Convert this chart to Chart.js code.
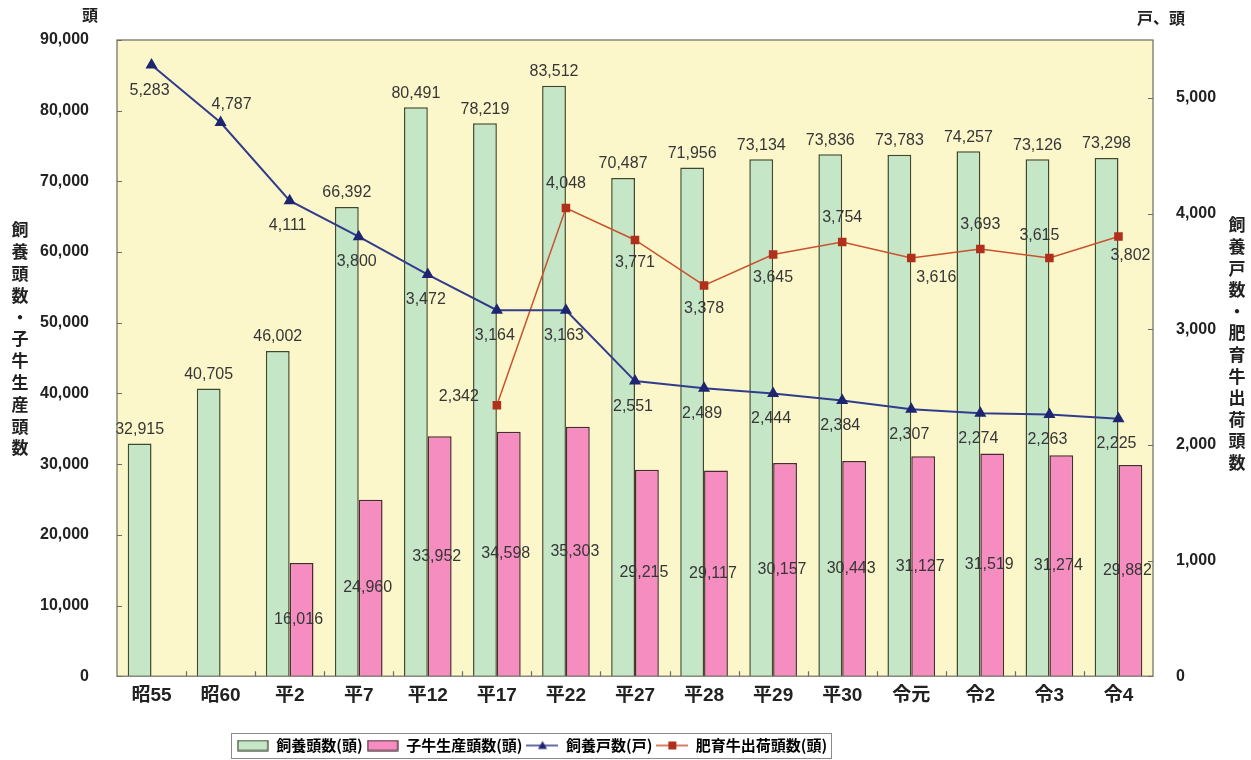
<!DOCTYPE html>
<html>
<head>
<meta charset="utf-8">
<script src="https://cdn.jsdelivr.net/npm/chart.js@4.4.1/dist/chart.umd.min.js"></script>
<style>
  html, body { margin: 0; background: #fff; }
  #wrap { width: 1251px; height: 760px; }
</style>
</head>
<body>
<div id="wrap"><canvas id="myChart"></canvas></div>
<script>
// 年次（x軸）
const labels = ['昭55', '昭60', '平2', '平7', '平12', '平17', '平22', '平27', '平28', '平29', '平30', '令元', '令2', '令3', '令4'];

// 棒グラフ（左軸）
const shiyoTosu = [32915, 40705, 46002, 66392, 80491, 78219, 83512, 70487, 71956, 73134, 73836, 73783, 74257, 73126, 73298];
const koushiSeisan = [null, null, 16016, 24960, 33952, 34598, 35303, 29215, 29117, 30157, 30443, 31127, 31519, 31274, 29882];

// 折れ線（右軸）
const shiyoKosu = [5283, 4787, 4111, 3800, 3472, 3164, 3163, 2551, 2489, 2444, 2384, 2307, 2274, 2263, 2225];
const shukkaTosu = [null, null, null, null, null, 2342, 4048, 3771, 3378, 3645, 3754, 3616, 3693, 3615, 3802];

// 軸目盛
const leftTicks = [0, 10000, 20000, 30000, 40000, 50000, 60000, 70000, 80000, 90000];
const rightTicks = [0, 1000, 2000, 3000, 4000, 5000];
const rightMax = 5500;

const FONT = '"Liberation Sans", Arial, "Noto Sans CJK JP", sans-serif';
const JP = '"Noto Sans CJK JP", "Liberation Sans", sans-serif';
const fmt = v => Number(v).toLocaleString('en-US');

// 凡例アイコン
function boxIcon(fill, stroke) {
  const c = document.createElement('canvas');
  c.width = 32; c.height = 12;
  const g = c.getContext('2d');
  g.fillStyle = fill;
  g.fillRect(1, 1, 30, 10);
  g.strokeStyle = stroke;
  g.lineWidth = 1.2;
  g.strokeRect(1, 1, 30, 10);
  return c;
}
function lineIcon(color, mark, shape) {
  const c = document.createElement('canvas');
  c.width = 32; c.height = 12;
  const g = c.getContext('2d');
  g.strokeStyle = color;
  g.lineWidth = 1.5;
  g.beginPath(); g.moveTo(0, 6); g.lineTo(32, 6); g.stroke();
  g.fillStyle = mark;
  if (shape === 'triangle') {
    g.beginPath(); g.moveTo(16, 1.5); g.lineTo(20.5, 9.5); g.lineTo(11.5, 9.5); g.closePath(); g.fill();
  } else {
    g.fillRect(12, 2, 8, 8);
  }
  return c;
}

// 背景
const bgPlugin = {
  id: 'bg',
  beforeDraw(chart) {
    const { ctx, chartArea: a } = chart;
    ctx.save();
    ctx.fillStyle = '#fbf7cb';
    ctx.fillRect(a.left, a.top, a.right - a.left, a.bottom - a.top);
    ctx.restore();
  },
  afterLayout(chart) {
    // 凡例は左寄り（中心 x≈531）、少し下げる
    const lg = chart.legend;
    if (!lg) return;
    lg.right = 2 * 534 - lg.left - 4;
    lg.width = lg.right - lg.left;
    lg.top += 3;
    lg.bottom += 3;
  }
};

// データラベル
const valuePlugin = {
  id: 'values',
  afterDatasetsDraw(chart) {
    const ctx = chart.ctx;
    ctx.save();
    ctx.font = '16px ' + FONT;
    ctx.fillStyle = '#363636';
    ctx.textAlign = 'center';
    ctx.textBaseline = 'middle';
    chart.data.datasets.forEach((ds, di) => {
      const meta = chart.getDatasetMeta(di);
      meta.data.forEach((el, i) => {
        const v = ds.data[i];
        if (v == null) return;
        let x = el.x, y = el.y;
        if (ds.labelPos === 'top') {
          y = el.y - 14;
        } else if (ds.labelPos === 'middle') {
          x = el.x - 3;
          y = (el.y + el.base) / 2;
        } else if (ds.labelPos === 'blue') {
          if (i === 1) { x += 11; y -= 18; } else { x -= 2; y += 25; }
        } else if (ds.labelPos === 'red') {
          if (i === 5) { x -= 38; y -= 9; }
          else if (i === 6 || i === 10 || i === 12) { y -= 24; }
          else if (i === 13) { x -= 10; y -= 22; }
          else if (i === 11) { x += 25; y += 20; }
          else if (i === 14) { x += 12; y += 19; }
          else { y += 23; }
        }
        ctx.fillText(fmt(v), x, y);
      });
    });
    ctx.restore();
  }
};

// 枠・目盛・軸タイトル・凡例枠
const framePlugin = {
  id: 'frame',
  afterDraw(chart) {
    const { ctx, chartArea: a, scales } = chart;
    ctx.save();
    ctx.strokeStyle = '#6c6c60';
    ctx.lineWidth = 1.2;
    ctx.strokeRect(a.left, a.top, a.right - a.left, a.bottom - a.top);

    ctx.beginPath();
    scales.y.ticks.forEach(t => {
      const py = Math.round(scales.y.getPixelForValue(t.value)) + 0.5;
      ctx.moveTo(a.left, py); ctx.lineTo(a.left + 5, py);
    });
    scales.y1.ticks.forEach(t => {
      const py = Math.round(scales.y1.getPixelForValue(t.value)) + 0.5;
      ctx.moveTo(a.right - 5, py); ctx.lineTo(a.right, py);
    });
    const half = (scales.x.getPixelForValue(1) - scales.x.getPixelForValue(0)) / 2;
    for (let i = 0; i < labels.length - 1; i++) {
      const px = Math.round(scales.x.getPixelForValue(i) + half) + 0.5;
      ctx.moveTo(px, a.bottom); ctx.lineTo(px, a.bottom - 5);
    }
    ctx.stroke();

    ctx.fillStyle = '#222';
    ctx.font = 'bold 16px ' + JP;
    ctx.textAlign = 'center';
    ctx.textBaseline = 'middle';
    ctx.fillText('頭', 90, 15);
    ctx.fillText('戸、頭', 1161, 18);
    ctx.font = 'bold 17px ' + JP;
    const leftTitle = '飼養頭数・子牛生産頭数';
    [...leftTitle].forEach((ch, i) => ctx.fillText(ch, 20, 230 + i * 21.8));
    const rightTitle = '飼養戸数・肥育牛出荷頭数';
    [...rightTitle].forEach((ch, i) => ctx.fillText(ch, 1237, 225 + i * 21.6));

    const boxes = chart.legend.legendHitBoxes;
    if (boxes && boxes.length) {
      const l = Math.min(...boxes.map(b => b.left)) - 6;
      const r = Math.max(...boxes.map(b => b.left + b.width)) + 4;
      const t = Math.min(...boxes.map(b => b.top)) - 5;
      const bt = Math.max(...boxes.map(b => b.top + b.height)) + 5;
      ctx.strokeStyle = '#8a8a8a';
      ctx.lineWidth = 1;
      ctx.strokeRect(Math.round(l) + 0.5, Math.round(t) + 0.5, Math.round(r - l), Math.round(bt - t));
    }
    ctx.restore();
  }
};

const icons = [
  boxIcon('#c6e6c8', '#3d4a30'),
  boxIcon('#f58dc0', '#4a2a34'),
  lineIcon('#323c8c', '#1f2670', 'triangle'),
  lineIcon('#c8532c', '#b0301c', 'rect')
];

const data = {
  labels: labels,
  datasets: [{
    type: 'bar',
    label: '飼養頭数(頭)',
    data: shiyoTosu,
    backgroundColor: '#c6e6c8',
    borderColor: '#3d4a30',
    borderWidth: 1.5,
    yAxisID: 'y',
    labelPos: 'top',
    order: 0
  }, {
    type: 'bar',
    label: '子牛生産頭数(頭)',
    data: koushiSeisan,
    backgroundColor: '#f58dc0',
    borderColor: '#4a2a34',
    borderWidth: 1.5,
    yAxisID: 'y',
    labelPos: 'middle',
    order: 0
  }, {
    type: 'line',
    label: '飼養戸数(戸)',
    data: shiyoKosu,
    borderColor: '#323c8c',
    borderWidth: 2,
    pointStyle: 'triangle',
    pointRadius: 5,
    pointBackgroundColor: '#1f2670',
    pointBorderColor: '#1f2670',
    yAxisID: 'y1',
    labelPos: 'blue',
    order: -1
  }, {
    type: 'line',
    label: '肥育牛出荷頭数(頭)',
    data: shukkaTosu,
    borderColor: '#c8532c',
    borderWidth: 1.5,
    pointStyle: 'rect',
    pointRadius: 5,
    pointBackgroundColor: '#b0301c',
    pointBorderColor: '#b0301c',
    yAxisID: 'y1',
    labelPos: 'red',
    order: -1
  }]
};

const config = {
  data: data,
  options: {
    responsive: true,
    maintainAspectRatio: false,
    animation: false,
    datasets: {
      bar: { categoryPercentage: 0.69, barPercentage: 1.0 }
    },
    layout: { padding: { left: 20, right: 19, top: 40, bottom: 0 } },
    plugins: {
      tooltip: { enabled: false },
      legend: {
        position: 'bottom',
        labels: {
          usePointStyle: true,
          pointStyleWidth: 32,
          padding: 4,
          color: '#222',
          font: { family: JP, size: 15, weight: 'bold' },
          generateLabels: chart => chart.data.datasets.map((ds, i) => ({
            text: ds.label,
            pointStyle: icons[i],
            fillStyle: 'transparent',
            strokeStyle: 'transparent',
            lineWidth: 0,
            datasetIndex: i,
            hidden: false
          }))
        }
      }
    },
    scales: {
      x: {
        grid: { display: false },
        border: { display: false },
        ticks: { color: '#222', padding: 0, font: { family: FONT, size: 19, weight: 'bold' } },
        afterFit: s => { s.height += 24; }
      },
      y: {
        position: 'left',
        min: leftTicks[0],
        max: leftTicks[leftTicks.length - 1],
        grid: { display: false },
        border: { display: false },
        ticks: {
          padding: 20,
          color: '#222',
          font: { family: FONT, size: 16, weight: 'bold' },
          callback: v => fmt(v)
        },
        afterBuildTicks: s => { s.ticks = leftTicks.map(v => ({ value: v })); },
        afterFit: s => { s.width = 97; }
      },
      y1: {
        position: 'right',
        min: rightTicks[0],
        max: rightMax,
        grid: { display: false },
        border: { display: false },
        ticks: {
          padding: 15,
          color: '#222',
          font: { family: FONT, size: 16, weight: 'bold' },
          callback: v => fmt(v)
        },
        afterBuildTicks: s => { s.ticks = rightTicks.map(v => ({ value: v })); },
        afterFit: s => { s.width = 79; }
      }
    }
  },
  plugins: [bgPlugin, valuePlugin, framePlugin]
};

const myChart = new Chart(document.getElementById('myChart'), config);
</script>
</body>
</html>
